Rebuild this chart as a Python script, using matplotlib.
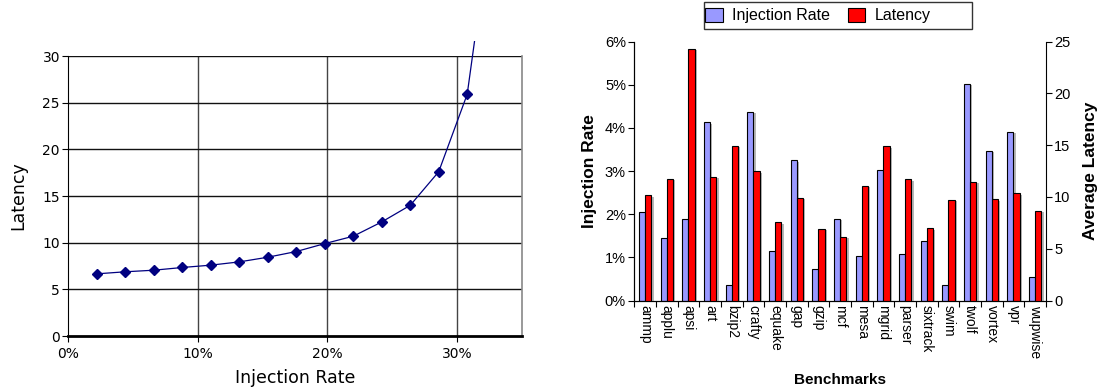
import matplotlib
matplotlib.use("Agg")
import matplotlib.pyplot as plt
import matplotlib.patheffects as pe
from matplotlib.ticker import PercentFormatter, MultipleLocator
from matplotlib.transforms import Bbox, TransformedBbox
from matplotlib.patches import Patch, Rectangle
import numpy as np

# ---- left chart data ----
inj_rate_pct = [2.2, 4.4, 6.6, 8.8, 11.0, 13.2, 15.4, 17.6, 19.8, 22.0, 24.2, 26.4, 28.6, 30.8, 33.0]
latency_curve = [6.66, 6.88, 7.05, 7.34, 7.59, 7.94, 8.44, 9.05, 9.90, 10.69, 12.22, 14.0, 17.6, 25.9, 48.0]

# ---- right chart data ----
benchmarks = ["ammp", "applu", "apsi", "art", "bzip2", "crafty", "equake", "gap", "gzip",
              "mcf", "mesa", "mgrid", "parser", "sixtrack", "swim", "twolf", "vortex", "vpr", "wupwise"]
bench_inj_pct = [2.05, 1.45, 1.89, 4.13, 0.36, 4.38, 1.14, 3.25, 0.74,
                 1.89, 1.04, 3.02, 1.08, 1.37, 0.36, 5.03, 3.47, 3.91, 0.55]
bench_latency = [10.15, 11.73, 24.29, 11.92, 14.95, 12.47, 7.57, 9.92, 6.93,
                 6.15, 11.08, 14.88, 11.69, 6.96, 9.73, 11.47, 9.79, 10.37, 8.67]

W, H = 1101, 389
fig = plt.figure(figsize=(W / 100, H / 100), dpi=100)

# ================= LEFT =================
dv = "DejaVu Sans"
ax1 = fig.add_axes([68.3 / W, 1 - 336 / H, (521.6 - 68.3) / W, (336 - 56) / H])
ax1.set_xlim(0, 35)
ax1.set_ylim(0, 30)
ax1.xaxis.set_major_locator(MultipleLocator(10))
ax1.yaxis.set_major_locator(MultipleLocator(5))
ax1.xaxis.set_major_formatter(PercentFormatter(decimals=0))
for v in [10, 20, 30]:
    ax1.axvline(v, color="#444444", lw=1.0, zorder=1)
for v in [5, 10, 15, 20, 25, 30]:
    ax1.axhline(v, color="#111111", lw=1.0, zorder=1)
line, = ax1.plot(inj_rate_pct, latency_curve, color="#000080", lw=0.9,
                 marker="D", markersize=5, zorder=3)
line.set_clip_box(TransformedBbox(Bbox([[0, -0.02], [1, 1.055]]), ax1.transAxes))
ax1.spines["top"].set_visible(False)
ax1.spines["right"].set_color("#888888")
ax1.spines["right"].set_linewidth(1.2)
ax1.spines["left"].set_color("black")
ax1.spines["bottom"].set_linewidth(2.0)
ax1.tick_params(axis="both", direction="out", length=4, width=0.8, labelsize=10, pad=2)
ax1.tick_params(axis="x", pad=4)
for lab in ax1.get_xticklabels() + ax1.get_yticklabels():
    lab.set_family(dv)
ax1.set_xlabel("Injection Rate", fontsize=12.5, family=dv, labelpad=6)
ax1.set_ylabel("Latency", fontsize=12.5, family=dv, labelpad=11)

# ================= RIGHT =================
ar = "Liberation Sans"
ax2 = fig.add_axes([634.3 / W, 1 - 300.5 / H, (1046 - 634.3) / W, (300.5 - 41.7) / H])
ax3 = ax2.twinx()
x = np.arange(len(benchmarks))
bw = 0.29
shadow = [pe.SimplePatchShadow(offset=(1.5, -1), shadow_rgbFace="#888888", alpha=0.6), pe.Normal()]
b1 = ax2.bar(x - bw / 2, bench_inj_pct, width=bw, color="#9999FF", edgecolor="black", lw=0.8, zorder=2)
b2 = ax3.bar(x + bw / 2, bench_latency, width=bw, color="#FF0000", edgecolor="black", lw=0.8, zorder=2)
for p in list(b1) + list(b2):
    p.set_path_effects(shadow)

ax2.set_xlim(-0.5, len(benchmarks) - 0.5)
ax2.set_ylim(0, 6)
ax3.set_ylim(0, 25)
ax2.yaxis.set_major_locator(MultipleLocator(1))
ax2.yaxis.set_major_formatter(PercentFormatter(decimals=0))
ax3.yaxis.set_major_locator(MultipleLocator(5))

ax2.set_xticks(np.arange(len(benchmarks) + 1) - 0.5)
ax2.set_xticklabels([])
ax2.set_xticks(x, minor=True)
ax2.set_xticklabels(benchmarks, minor=True, rotation=270, fontsize=10, family=ar)
ax2.tick_params(axis="x", which="major", direction="out", length=4, width=0.8)
ax2.tick_params(axis="x", which="minor", length=0, pad=3)
ax2.tick_params(axis="y", direction="out", length=4, width=0.8, labelsize=10.5, pad=2)
ax3.tick_params(axis="y", direction="out", length=4, width=0.8, labelsize=10.5, pad=2)
for lab in ax2.get_yticklabels() + ax3.get_yticklabels():
    lab.set_family(ar)
for a in (ax2, ax3):
    a.spines["top"].set_visible(False)
ax2.spines["right"].set_visible(False)

ax2.set_ylabel("Injection Rate", fontsize=12.5, fontweight="bold", family=ar, labelpad=6)
ax3.set_ylabel("Average Latency", fontsize=12.5, fontweight="bold", family=ar, labelpad=9)
ax2.set_xlabel("Benchmarks", fontsize=11, fontweight="bold", family=ar, labelpad=11)

# legend box (Excel style, extra room on the right)
fig.patches.append(Rectangle((703.7 / W, 1 - 29 / H), (971.7 - 703.7) / W, 27.3 / H,
                             transform=fig.transFigure, facecolor="white",
                             edgecolor="#333333", lw=1.0, zorder=5))
handles = [Patch(facecolor="#9999FF", edgecolor="black", lw=0.8, label="Injection Rate"),
           Patch(facecolor="#FF0000", edgecolor="black", lw=0.8, label="Latency")]
leg = fig.legend(handles=handles, loc="center left", bbox_to_anchor=(705 / W, 1 - 15.5 / H),
                 ncol=2, frameon=False, prop={"family": ar, "size": 11.5},
                 handlelength=1.1, handleheight=1.05, handletextpad=0.6,
                 columnspacing=1.1, borderpad=0, borderaxespad=0)
leg.set_zorder(6)

fig.savefig("out.png", dpi=100)
